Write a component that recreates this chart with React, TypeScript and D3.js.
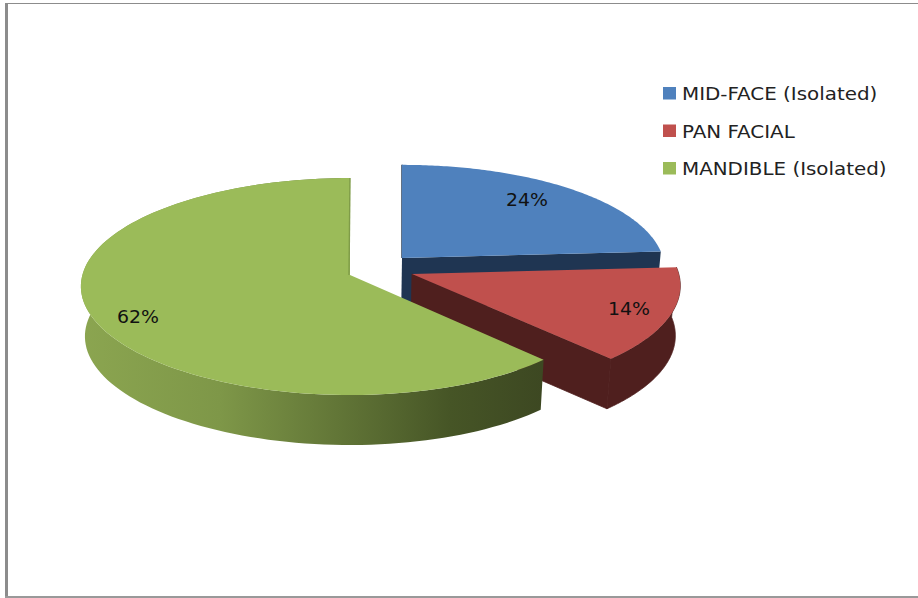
import React from "react";
import * as d3 from "d3";

// Share of each injury category
const categories = ["MID-FACE (Isolated)", "PAN FACIAL", "MANDIBLE (Isolated)"];
const shares = [24, 14, 62];
const valueLabels = ["24%", "14%", "62%"];

const WIDTH = 918;
const HEIGHT = 598;

const topColors = ["#4f81bd", "#c0504d", "#9bbb59"];
const cutColors = ["#1f3552", "#4f1f1e", "#7f9c48"];

// Placement of each exploded wedge on the tilted disc
const wedgeLayout = [
  { apexX: 402, apexY: 258, scaleX: 1, scaleY: 0.96 },
  { apexX: 412, apexY: 274, scaleX: 1.022, scaleY: 1 },
  { apexX: 350, apexY: 275, scaleX: 0.995, scaleY: 1 },
];

const labelLayout = [
  { x: 527, y: 206 },
  { x: 629, y: 315 },
  { x: 138, y: 323 },
];

const legendLayout = { swatchX: 663, textX: 682, baselines: [100, 137.5, 175], stretch: 1.137 };

// Disc geometry: a perspective view of a circle, plus its extrusion
const RADIUS_X = 265;
const RADIUS_Y = 107.3;
const PERSPECTIVE = 0.106;
const SIDE_LEAN = 0.015;
const DEPTH = 50;
const VANISH_X = 350;
const VANISH_PULL = 0.015;

type Pt = [number, number];
type Wedge = (typeof wedgeLayout)[number];

function onTop(w: Wedge, angle: number, r = 1): Pt {
  const u = Math.sin(angle) * r;
  const v = -Math.cos(angle) * r;
  const s = 1 / (1 - PERSPECTIVE * v);
  return [
    w.apexX + RADIUS_X * w.scaleX * u * s * (1 - SIDE_LEAN * u),
    w.apexY + RADIUS_Y * w.scaleY * v * s,
  ];
}

function onBase(p: Pt): Pt {
  return [p[0] + (VANISH_X - p[0]) * VANISH_PULL, p[1] + DEPTH];
}

const outline = d3.line<Pt>();

export default function App() {
  const pie = d3.pie<number>().sort(null)(shares);

  const wedges = pie.map((slice, i) => {
    const w = wedgeLayout[i];
    const steps = d3.range(0, 121).map(
      (k) => slice.startAngle + ((slice.endAngle - slice.startAngle) * k) / 120,
    );
    const rim = steps.map((a) => onTop(w, a));
    const apex: Pt = [w.apexX, w.apexY];
    const first = rim[0];
    const last = rim[rim.length - 1];
    return {
      top: outline([apex, ...rim])! + "Z",
      outer: outline([...rim, ...rim.map(onBase).reverse()])! + "Z",
      cutEnd: outline([apex, last, onBase(last), onBase(apex)])! + "Z",
      apex,
      first,
      last,
    };
  });

  const [blue, red, green] = wedges;

  return (
    <svg
      width={WIDTH}
      height={HEIGHT}
      viewBox={`0 0 ${WIDTH} ${HEIGHT}`}
      style={{ position: "fixed", left: 0, top: 0, background: "#fff" }}
      fontFamily="'DejaVu Sans', sans-serif"
    >
      <defs>
        <linearGradient id="mandibleSide" gradientUnits="userSpaceOnUse" x1={82} x2={542} y1={0} y2={0}>
          <stop offset="0" stopColor="#8ba550" />
          <stop offset="0.3" stopColor="#7e9748" />
          <stop offset="0.6" stopColor="#5d7034" />
          <stop offset="0.8" stopColor="#465526" />
          <stop offset="1" stopColor="#3d4822" />
        </linearGradient>
      </defs>

      {/* chart frame */}
      <rect x={5} y={3} width={3} height={594} fill="#8c8c8c" />
      <rect x={5} y={3} width={WIDTH - 5} height={1} fill="#8c8c8c" />
      <rect x={5} y={596} width={WIDTH - 5} height={2} fill="#999" />

      {/* mid-face wedge */}
      <path d={blue.cutEnd} fill={cutColors[0]} />
      <line
        x1={blue.apex[0]}
        y1={blue.apex[1]}
        x2={blue.first[0]}
        y2={blue.first[1]}
        stroke={cutColors[0]}
        strokeWidth={1.4}
      />
      <path d={blue.top} fill={topColors[0]} />

      {/* pan-facial wedge */}
      <path d={red.cutEnd} fill={cutColors[1]} stroke={cutColors[1]} strokeWidth={0.8} />
      <path d={red.outer} fill={cutColors[1]} stroke={cutColors[1]} strokeWidth={0.8} />
      <path d={red.top} fill={topColors[1]} />

      {/* mandible wedge */}
      <path d={green.outer} fill="url(#mandibleSide)" />
      <path d={green.top} fill={topColors[2]} />
      <line
        x1={green.apex[0] - 1}
        y1={green.apex[1]}
        x2={green.last[0]}
        y2={green.last[1]}
        stroke={cutColors[2]}
        strokeWidth={1.4}
      />

      {/* value labels */}
      {valueLabels.map((t, i) => (
        <text
          key={t}
          transform={`translate(${labelLayout[i].x},${labelLayout[i].y}) scale(1.05,1)`}
          fontSize={18}
          textAnchor="middle"
          fill="#111"
        >
          {t}
        </text>
      ))}

      {/* legend */}
      {categories.map((c, i) => (
        <g key={c}>
          <rect
            x={legendLayout.swatchX}
            y={legendLayout.baselines[i] - 13}
            width={13}
            height={12.5}
            fill={topColors[i]}
          />
          <text
            transform={`translate(${legendLayout.textX},${legendLayout.baselines[i]}) scale(${legendLayout.stretch},1)`}
            fontSize={17.5}
            fill="#222"
          >
            {c}
          </text>
        </g>
      ))}
    </svg>
  );
}
